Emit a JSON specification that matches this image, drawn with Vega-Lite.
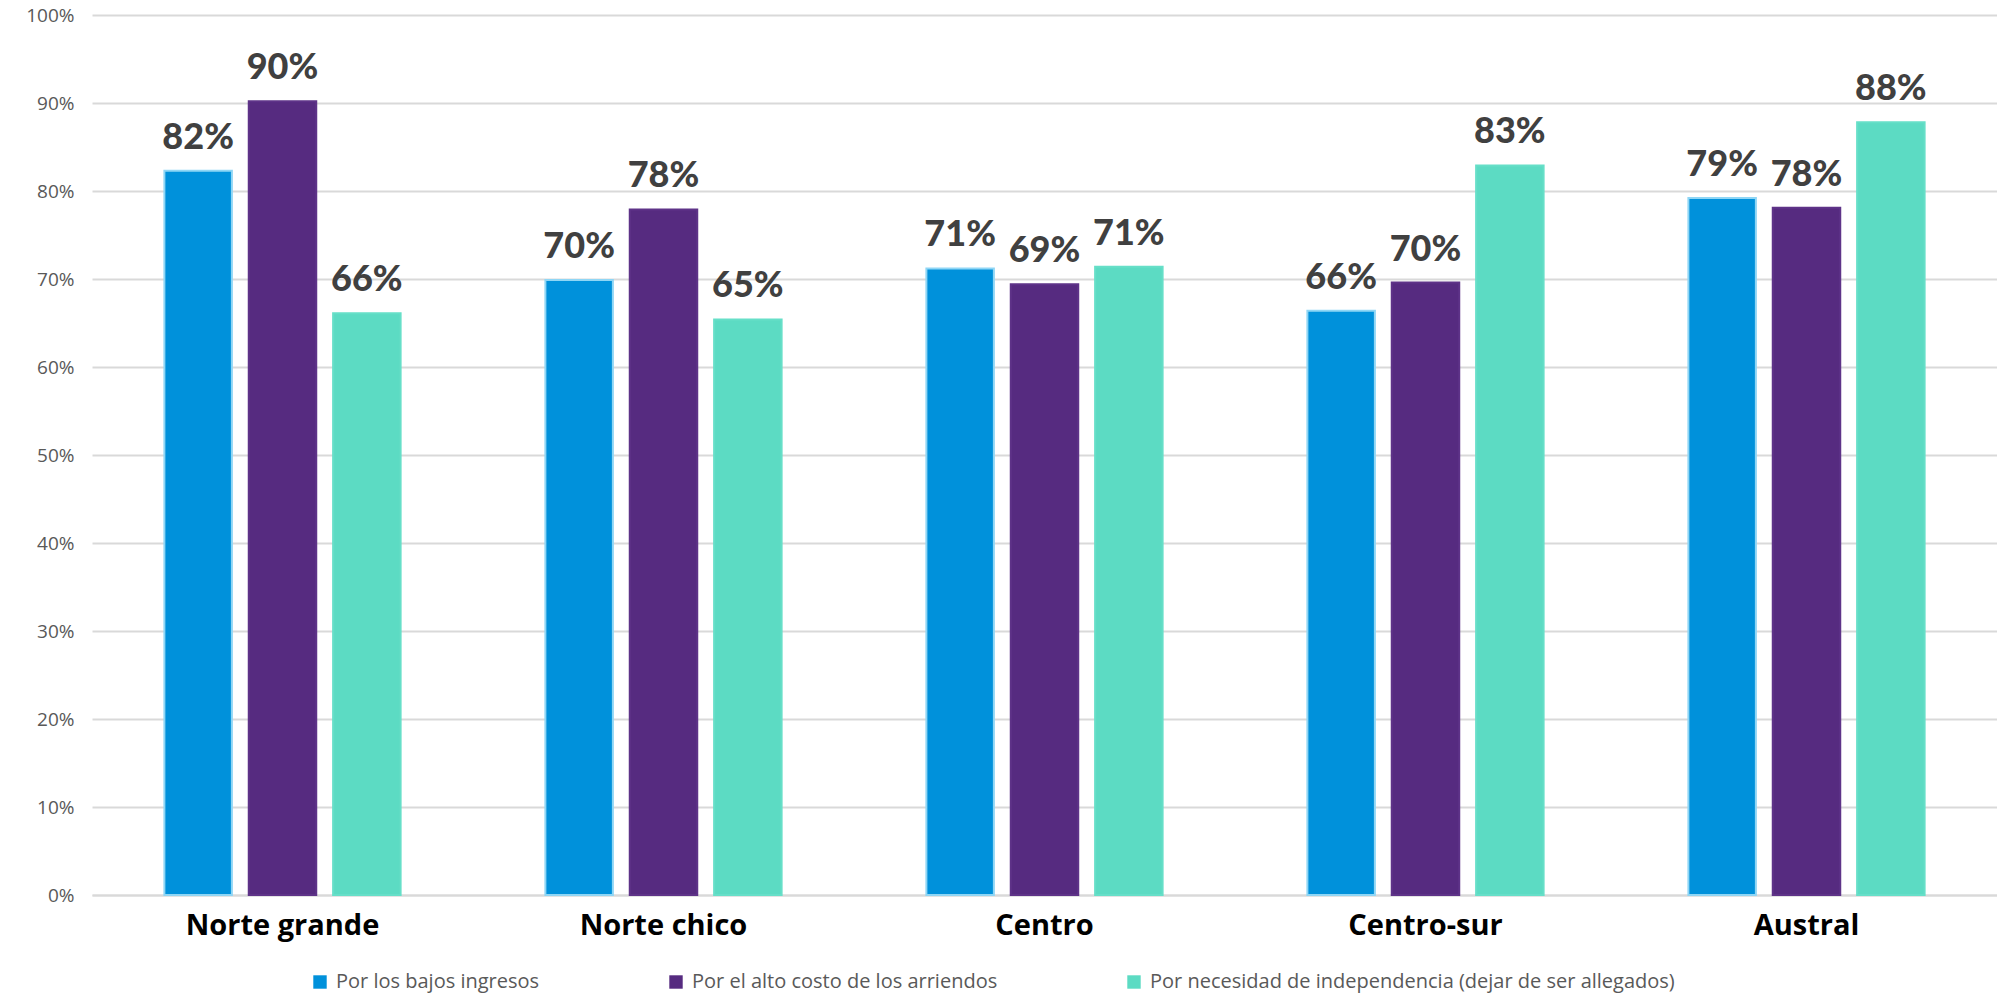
{
  "$schema": "https://vega.github.io/schema/vega-lite/v6.json",
  "autosize": {"type": "none"},
  "padding": {"left": 92, "top": 15, "right": 0, "bottom": 105},
  "width": 1905,
  "height": 880,
  "background": "white",
  "config": {"view": {"stroke": null}},
  "data": {
    "values": [
      {"region": "Norte grande", "serie": "Por los bajos ingresos", "valor": 0.823},
      {"region": "Norte grande", "serie": "Por el alto costo de los arriendos", "valor": 0.902},
      {"region": "Norte grande", "serie": "Por necesidad de independencia (dejar de ser allegados)", "valor": 0.661},
      {"region": "Norte chico", "serie": "Por los bajos ingresos", "valor": 0.699},
      {"region": "Norte chico", "serie": "Por el alto costo de los arriendos", "valor": 0.779},
      {"region": "Norte chico", "serie": "Por necesidad de independencia (dejar de ser allegados)", "valor": 0.654},
      {"region": "Centro", "serie": "Por los bajos ingresos", "valor": 0.712},
      {"region": "Centro", "serie": "Por el alto costo de los arriendos", "valor": 0.694},
      {"region": "Centro", "serie": "Por necesidad de independencia (dejar de ser allegados)", "valor": 0.714},
      {"region": "Centro-sur", "serie": "Por los bajos ingresos", "valor": 0.664},
      {"region": "Centro-sur", "serie": "Por el alto costo de los arriendos", "valor": 0.696},
      {"region": "Centro-sur", "serie": "Por necesidad de independencia (dejar de ser allegados)", "valor": 0.829},
      {"region": "Austral", "serie": "Por los bajos ingresos", "valor": 0.792},
      {"region": "Austral", "serie": "Por el alto costo de los arriendos", "valor": 0.781},
      {"region": "Austral", "serie": "Por necesidad de independencia (dejar de ser allegados)", "valor": 0.878}
    ]
  },
  "encoding": {
    "x": {
      "field": "region", "type": "nominal",
      "sort": ["Norte grande", "Norte chico", "Centro", "Centro-sur", "Austral"],
      "scale": {"paddingInner": 0.38, "paddingOuter": 0.19},
      "axis": {
        "title": null, "labelAngle": 0, "ticks": false, "domain": true,
        "domainColor": "#d9d9d9", "domainWidth": 2,
        "labelFont": "Open Sans", "labelFontWeight": "bold", "labelFontSize": 29,
        "labelColor": "#000000", "labelPadding": 16, "labelLimit": 0
      }
    },
    "xOffset": {
      "field": "serie", "type": "nominal",
      "sort": ["Por los bajos ingresos", "Por el alto costo de los arriendos", "Por necesidad de independencia (dejar de ser allegados)"],
      "scale": {"paddingInner": 0.2, "paddingOuter": 0}
    },
    "y": {
      "field": "valor", "type": "quantitative",
      "scale": {"domain": [0, 1], "nice": false},
      "axis": {
        "title": null, "format": ".0%", "values": [0, 0.1, 0.2, 0.3, 0.4, 0.5, 0.6, 0.7, 0.8, 0.9, 1],
        "domain": false, "ticks": false, "gridColor": "#d9d9d9", "gridWidth": 2,
        "labelFont": "Open Sans", "labelFontSize": 19, "labelColor": "#595959", "labelPadding": 18
      }
    }
  },
  "layer": [
    {
      "mark": {"type": "bar", "strokeWidth": 2},
      "encoding": {
        "color": {
          "field": "serie", "type": "nominal",
          "sort": ["Por los bajos ingresos", "Por el alto costo de los arriendos", "Por necesidad de independencia (dejar de ser allegados)"],
          "scale": {"range": ["#0091DB", "#562B80", "#5CDBC3"]},
          "legend": {
            "title": null, "orient": "none", "direction": "horizontal", "columns": 3,
            "legendX": 218, "legendY": 957,
            "symbolType": "square", "symbolSize": 180, "symbolStrokeWidth": 0,
            "labelFont": "Open Sans", "labelFontSize": 20, "labelColor": "#595959",
            "labelLimit": 0, "columnPadding": 126, "labelOffset": 6
          }
        },
        "stroke": {
          "field": "serie", "type": "nominal",
          "sort": ["Por los bajos ingresos", "Por el alto costo de los arriendos", "Por necesidad de independencia (dejar de ser allegados)"],
          "scale": {"range": ["#8fd6f5", "#5e3388", "#66dfc8"]},
          "legend": null
        }
      }
    },
    {
      "mark": {"type": "text", "baseline": "bottom", "dy": -14, "font": "Lato", "fontWeight": 900, "fontSize": 36, "fill": "#404040"},
      "encoding": {
        "text": {"field": "valor", "type": "quantitative", "format": ".0%"}
      }
    }
  ]
}
